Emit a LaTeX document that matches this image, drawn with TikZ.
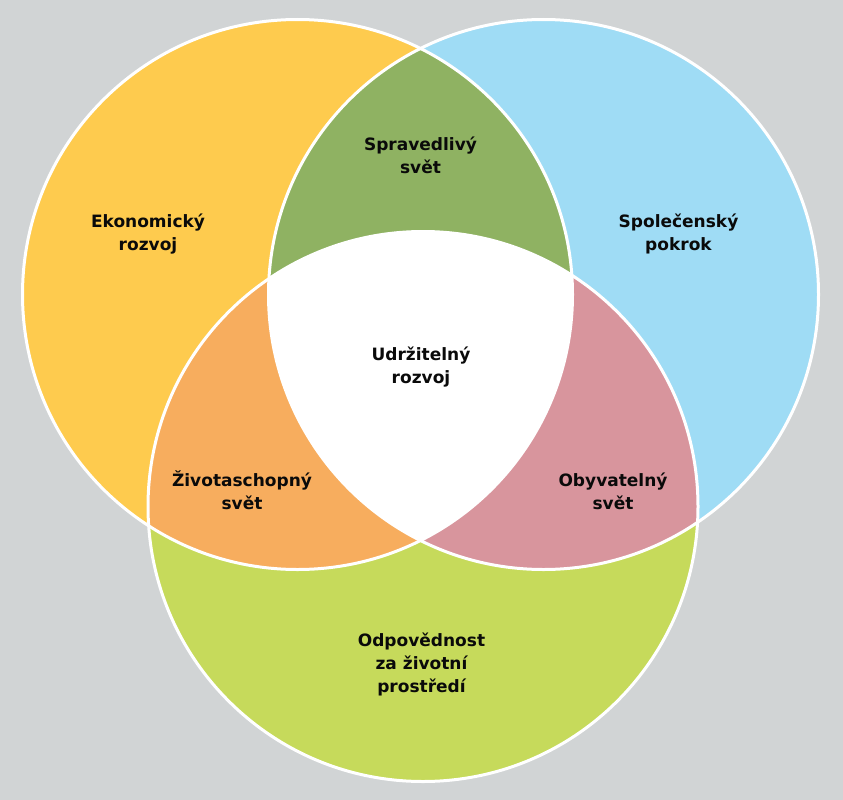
\documentclass[tikz,border=0pt]{standalone}
\usepackage{fontspec}
\setmainfont{DejaVu Sans}
\definecolor{bgc}{HTML}{D1D4D5}
\definecolor{yel}{HTML}{FECB4E}
\definecolor{blu}{HTML}{9FDCF5}
\definecolor{lgr}{HTML}{C6DA5B}
\definecolor{olv}{HTML}{8FB262}
\definecolor{org}{HTML}{F7AD5E}
\definecolor{pnk}{HTML}{D8959D}
\definecolor{txt}{HTML}{0A0A0A}
\tikzset{
  lbl/.style={align=center, anchor=base, text=txt, inner sep=0pt,
    font=\fontsize{17pt}{23pt}\selectfont\bfseries},
  rim/.style={draw=white, line width=3pt}
}
\begin{document}
\begin{tikzpicture}[x=1pt,y=-1pt]
\fill[bgc] (0,0) rectangle (843,800);
\useasboundingbox (0,0) rectangle (843,800);
\coordinate (cL) at (297.5,294.5);
\coordinate (cR) at (543.5,294.5);
\coordinate (cB) at (423,506.5);
\def\rr{275pt}
% single circles
\fill[yel] (cL) circle[radius=\rr];
\fill[blu] (cR) circle[radius=\rr];
\fill[lgr] (cB) circle[radius=\rr];
% pairwise intersections
\begin{scope}
  \clip (cL) circle[radius=\rr];
  \fill[olv] (cR) circle[radius=\rr];
  \fill[org] (cB) circle[radius=\rr];
\end{scope}
\begin{scope}
  \clip (cR) circle[radius=\rr];
  \fill[pnk] (cB) circle[radius=\rr];
\end{scope}
% triple intersection
\begin{scope}
  \clip (cL) circle[radius=\rr];
  \clip (cR) circle[radius=\rr];
  \fill[white] (cB) circle[radius=\rr];
\end{scope}
% outlines
\draw[rim] (cL) circle[radius=\rr];
\draw[rim] (cR) circle[radius=\rr];
\draw[rim] (cB) circle[radius=\rr];
% labels (anchor at baseline of last line)
\node[lbl] (ek) at (148,250) {Ekonomický\\rozvoj};
\node[lbl] (sp) at (420.5,173.5) {Spravedlivý\\svět};
\node[lbl] (so) at (678.5,250) {Společenský\\pokrok};
\node[lbl] (ud) at (421,383) {Udržitelný\\rozvoj};
\node[lbl] (zi) at (242,509.5) {Životaschopný\\svět};
\node[lbl] (ob) at (613,509.5) {Obyvatelný\\svět};
\node[lbl] (od) at (421.5,692) {Odpovědnost\\za životní\\prostředí};
\end{tikzpicture}
\end{document}
